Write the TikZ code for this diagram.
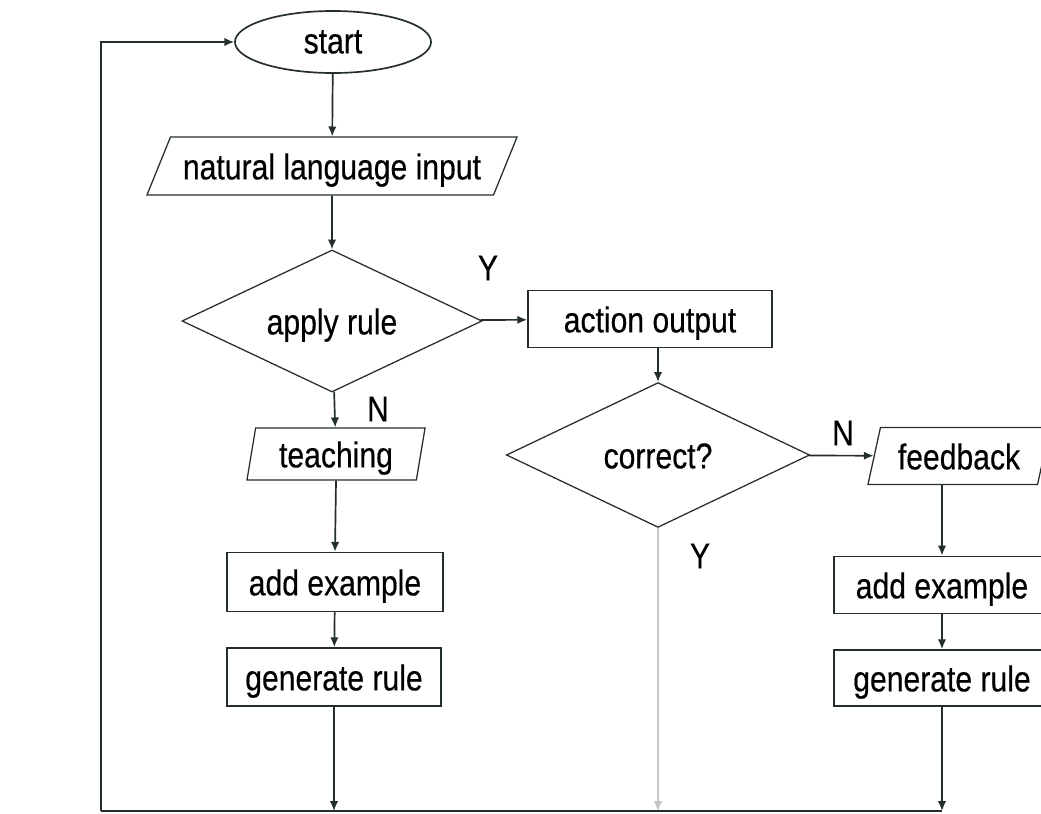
\documentclass[tikz,border=0pt]{standalone}
\usepackage{fontspec}
\setmainfont[FakeStretch=0.84,FakeBold=0.4]{Liberation Sans}
\usepackage{tikz}
\usetikzlibrary{arrows,arrows.meta}
\usetikzlibrary{shapes,shapes.geometric}
\usetikzlibrary{positioning}
\tikzstyle{line} = [draw, -{Latex[length=7pt,width=6pt]}]
\definecolor{ink}{rgb}{0.14,0.18,0.18}
\tikzset{
    every node/.style={font=\fontsize{25.5}{28}\selectfont, text=black},
    boxtext/.style={text height=24pt, text depth=5pt},
    startnode/.style={draw=ink, ellipse, inner sep=0pt, minimum width=4.9cm, minimum height=1.55cm},
    iobox/.style={draw=ink, line width=0.9pt, trapezium, trapezium stretches body, inner sep=0pt, boxtext},
    procbox/.style={draw=ink, rectangle, inner sep=0pt, minimum height=1.43cm, boxtext},
    decision/.style={draw=ink, line width=0.9pt, diamond, aspect=2.1, inner sep=0pt, boxtext},
    answer/.style={inner sep=0pt},
}
\begin{document}
\begin{tikzpicture}[line width=1.2pt, x=0.025cm, y=-0.025cm]
\useasboundingbox (0,0) rectangle (1041,814);
	% main column
	\node[startnode] (start) at (333,42) {start};
	\node[iobox, trapezium left angle=60, trapezium right angle=120,
	      minimum width=9.25cm, minimum height=1.45cm] (input) at (332,166) {natural language input};
	\node[decision, minimum width=7.5cm, minimum height=3.55cm] (apply) at (332,321) {apply rule};
	\node[iobox, trapezium left angle=78, trapezium right angle=102,
	      minimum width=4.45cm, minimum height=1.3cm] (teach) at (336,454) {teaching};
	\node[procbox, minimum width=5.4cm, minimum height=1.47cm] (addL) at (335,582) {add example};
	\node[procbox, minimum width=5.35cm, minimum height=1.45cm] (genL) at (334,677) {generate rule};
	% right part
	\node[procbox, minimum width=6.1cm] (action) at (650,319) {action output};
	\node[decision, minimum width=7.58cm, minimum height=3.62cm] (correct) at (658,455) {correct?};
	\node[iobox, trapezium left angle=73, trapezium right angle=107,
	      minimum width=4.55cm, minimum height=1.42cm] (fb) at (959,456) {feedback};
	\node[procbox, minimum width=5.4cm] (addR) at (942,585) {add example};
	\node[procbox, minimum width=5.4cm, minimum height=1.4cm] (genR) at (942,678) {generate rule};
	% answers
	\node[answer] (y1) at (488,268) {Y};
	\node[answer] (n1) at (378,409) {N};
	\node[answer] (n2) at (843,433) {N};
	\node[answer] (y2) at (700,556) {Y};
	% loop back
	\coordinate (back) at (101,811);
	\coordinate (backtop) at (101,42);
	\draw[ink] (back) -- (genR.south |- back);
	\draw[line, ink] (back) -- (backtop) -- (start.west);
	% arrows
	\draw[line, ink] (start) -- (input);
	\draw[line, ink] (input) -- (apply);
	\draw[line, ink] (apply) -- (action);
	\draw[line, ink] (correct.north |- action.south) -- (correct.north);
	\draw[line, ink] (correct) -- (fb);
	\draw[line, ink] (apply) -- (teach);
	\draw[line, ink] (teach.south) -- (addL.north);
	\draw[line, ink] (addL) -- (genL);
	\draw[line, ink] (genL.south) -- (genL.south |- back);
	\draw[line, ink] (addR.north |- fb.south) -- (addR.north);
	\draw[line, ink] (addR) -- (genR);
	\draw[line, ink] (genR.south) -- (genR.south |- back);
	\draw[line, gray!45, line width=0.8pt] (correct.south) -- (correct.south |- back);
\end{tikzpicture}
\end{document}
